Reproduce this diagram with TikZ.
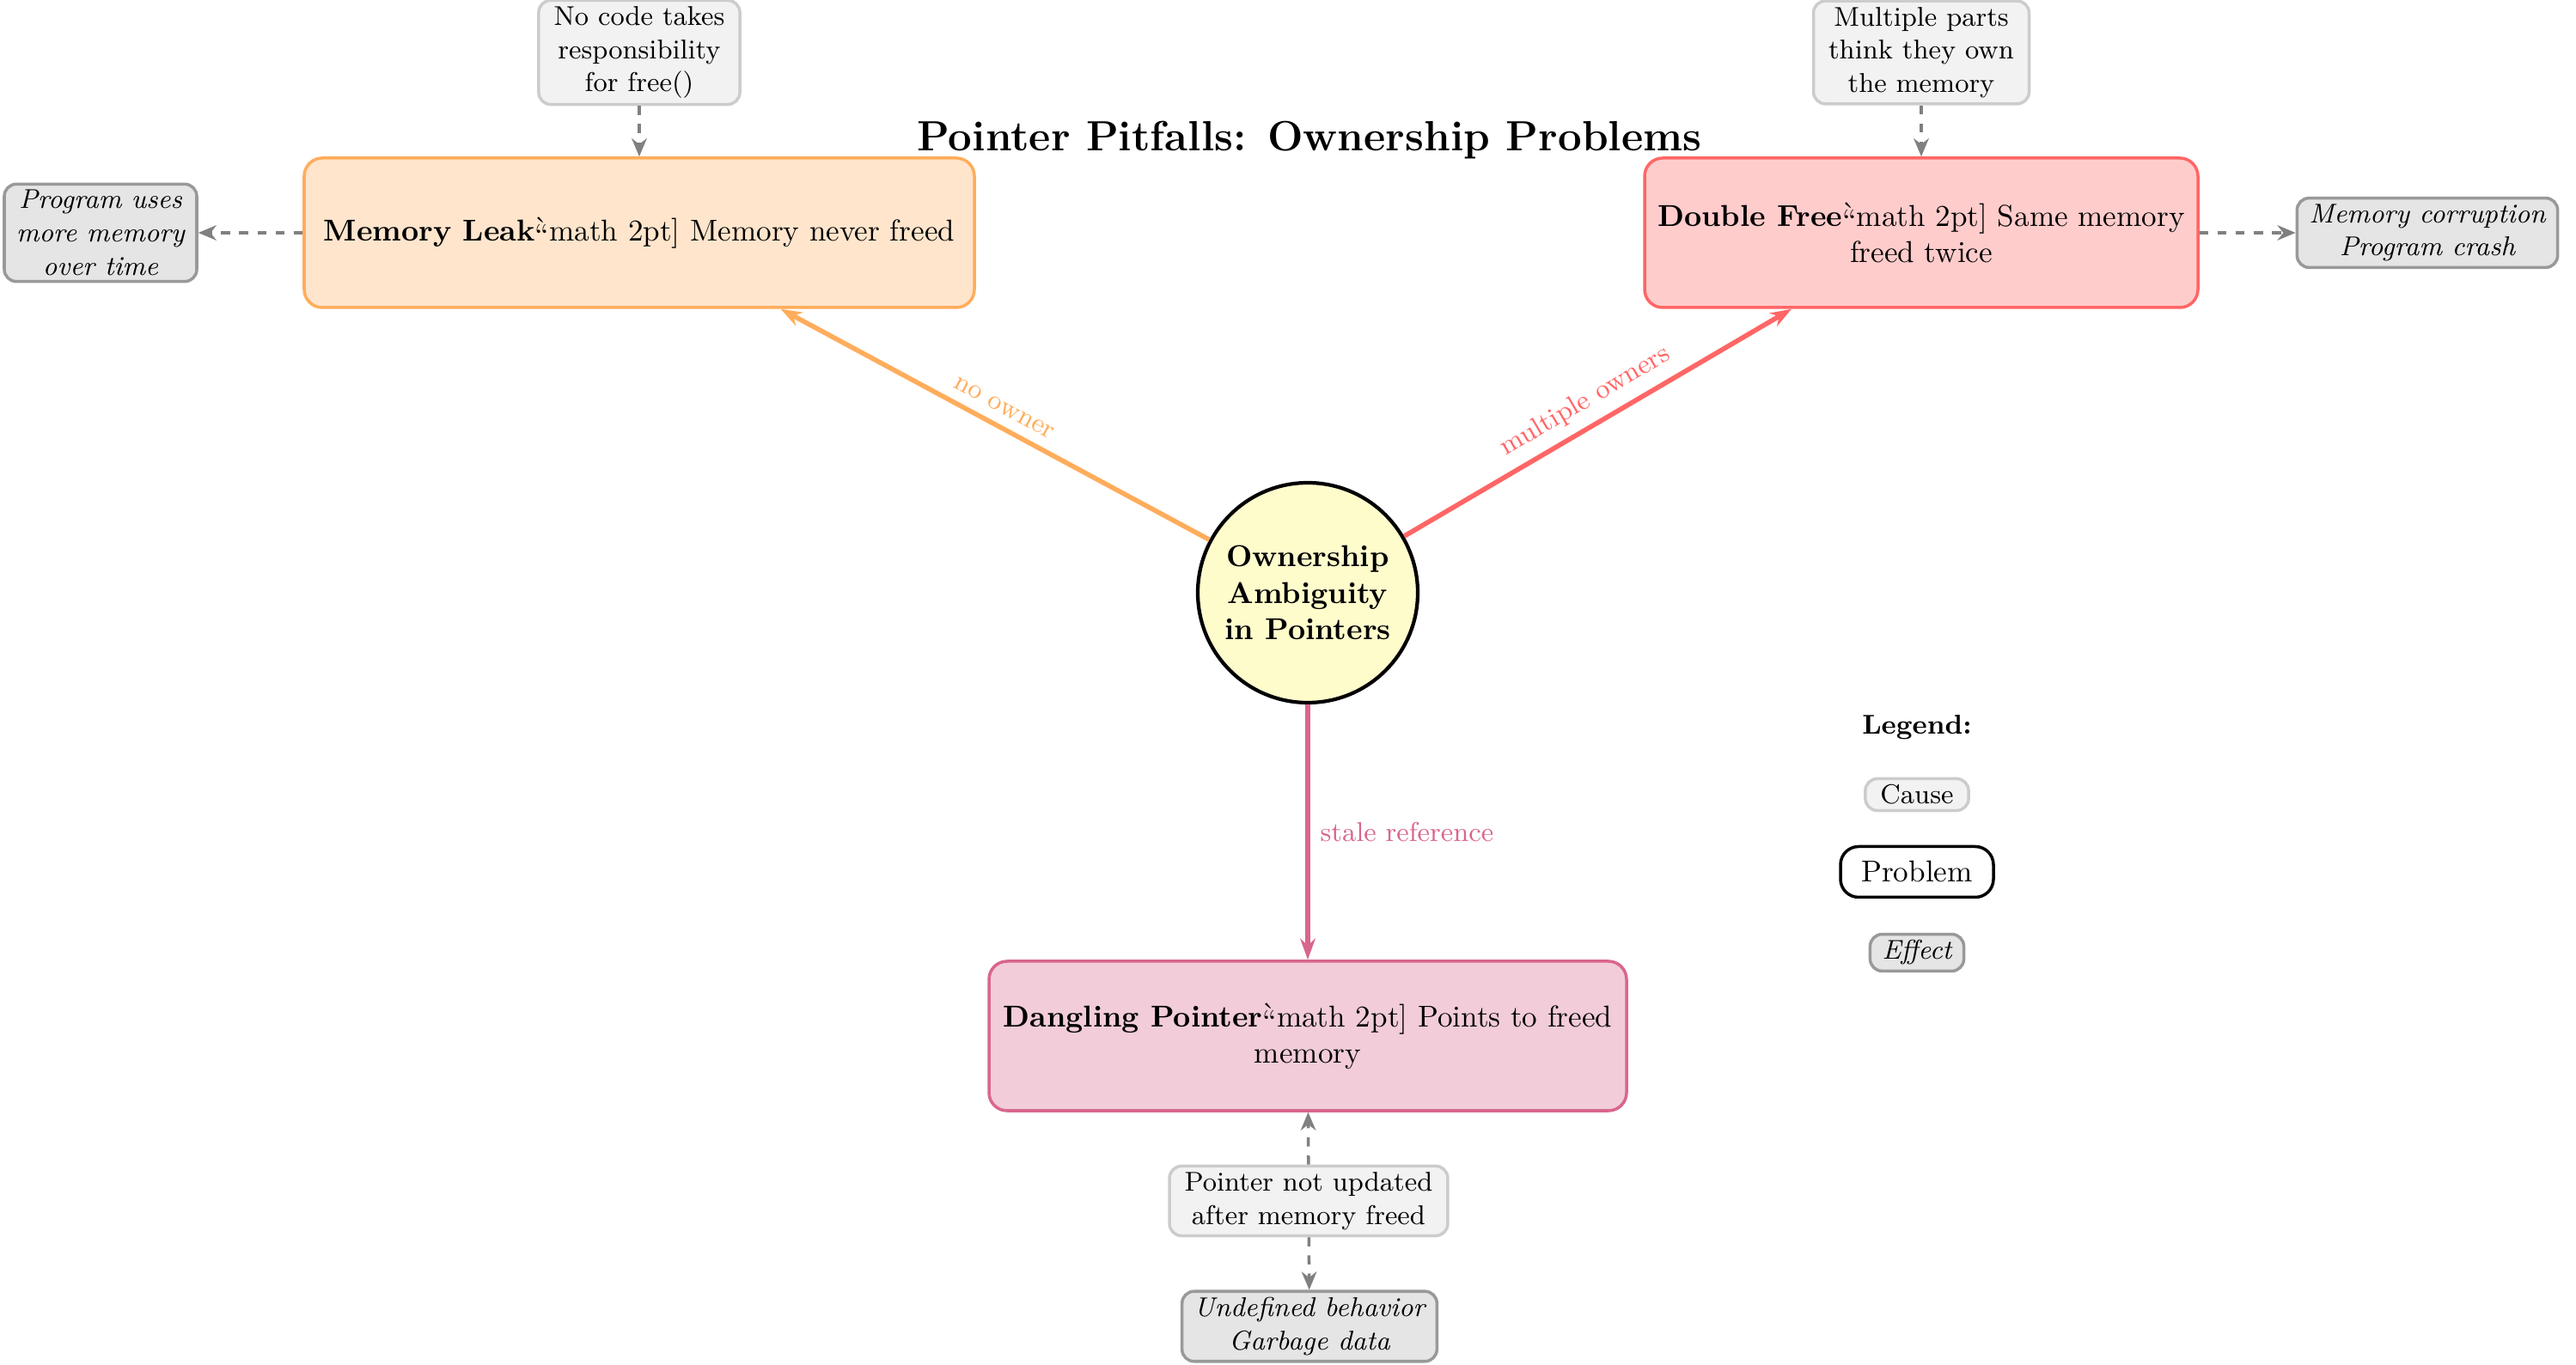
\documentclass[tikz,border=0pt]{standalone}
\usetikzlibrary{arrows.meta}
\definecolor{leakfill}{HTML}{FFE5CC}
\definecolor{leakdraw}{HTML}{FFAD5C}
\definecolor{dfill}{HTML}{FFCCCC}
\definecolor{ddraw}{HTML}{FF6666}
\definecolor{dangfill}{HTML}{F2CCD9}
\definecolor{dangdraw}{HTML}{D9668C}
\definecolor{corefill}{HTML}{FFFCCC}
\newcommand{\glitchtxt}{\rlap{\hspace{-0.3pt}\raisebox{0.2ex}{\textasciigrave}}\raisebox{-0.35ex}{\textquotedblleft}math 2pt]}
\begin{document}
\begin{tikzpicture}[
 problembox/.style={draw, rounded corners=6pt, line width=1pt, align=center, minimum height=1.74cm, inner sep=4pt},
 causebox/.style={draw=gray!40, fill=gray!10, rounded corners=4pt, line width=1pt, align=center, font=\small, inner xsep=5pt, inner ysep=2pt},
 effectbox/.style={draw=gray!80, fill=gray!20, rounded corners=4pt, line width=1pt, align=center, font=\small\itshape, inner xsep=4pt, inner ysep=2pt},
 mainarrow/.style={-{Stealth[length=7pt,width=5pt]}, line width=1.6pt},
 dasharrow/.style={-{Stealth[length=6pt,width=5pt]}, gray, dashed, line width=1pt},
 lbl/.style={font=\small}]
\useasboundingbox (0,0) rectangle (29.98,-15.89);

\node[font=\fontsize{14}{17}\selectfont\bfseries] (title) at (15.24,-1.63) {Pointer Pitfalls: Ownership Problems};

\node[problembox, fill=leakfill, draw=leakdraw, minimum width=7.80cm] (leak) at (7.44,-2.71)
  {\textbf{Memory Leak}\glitchtxt{} Memory never freed};
\node[problembox, fill=dfill, draw=ddraw, minimum width=6.44cm] (dfree) at (22.36,-2.71)
  {\textbf{Double Free}\glitchtxt{} Same memory\\freed twice};
\node[problembox, fill=dangfill, draw=dangdraw, minimum width=7.42cm] (dang) at (15.22,-12.06)
  {\textbf{Dangling Pointer}\glitchtxt{} Points to freed\\memory};

\node[circle, draw, line width=1.2pt, fill=corefill, minimum size=2.56cm, align=center, font=\bfseries, inner sep=0pt] (core) at (15.22,-6.90)
  {Ownership\\Ambiguity\\in Pointers};

\node[causebox] (c1) at (7.44,-0.61) {No code takes\\responsibility\\for free()};
\node[causebox] (c2) at (22.36,-0.61) {Multiple parts\\think they own\\the memory};
\node[causebox] (c3) at (15.23,-13.98) {Pointer not updated\\after memory freed};

\node[effectbox] (e1) at (1.17,-2.71) {Program uses\\more memory\\over time};
\node[effectbox] (e2) at (28.25,-2.71) {Memory corruption\\Program crash};
\node[effectbox] (e3) at (15.24,-15.44) {Undefined behavior\\Garbage data};

\draw[mainarrow, leakdraw] (core) -- node[lbl, sloped, above] {no owner} (leak);
\draw[mainarrow, ddraw] (core) -- node[lbl, sloped, above] {multiple owners} (dfree);
\draw[mainarrow, dangdraw] (core) -- node[lbl, right] {stale reference} (dang);

\draw[dasharrow] (c1) -- (leak);
\draw[dasharrow] (c2) -- (dfree);
\draw[dasharrow] (leak) -- (e1);
\draw[dasharrow] (dfree) -- (e2);
\draw[dasharrow] (c3) -- (dang);
\draw[dasharrow] (c3) -- (e3);

\node[font=\small\bfseries] (lg) at (22.31,-8.47) {Legend:};
\node[causebox] (lc) at (22.31,-9.25) {Cause};
\node[draw, line width=1pt, rounded corners=6pt, fill=white, minimum width=1.78cm, minimum height=0.59cm] (lp) at (22.31,-10.15) {Problem};
\node[effectbox] (le) at (22.31,-11.09) {Effect};
\end{tikzpicture}
\end{document}
